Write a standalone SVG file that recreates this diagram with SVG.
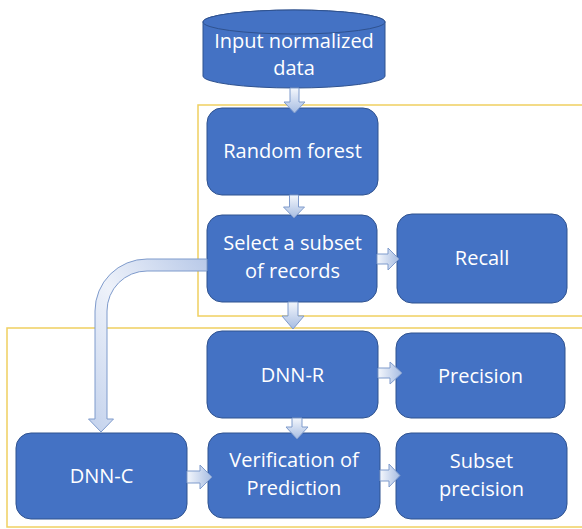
<svg xmlns="http://www.w3.org/2000/svg" width="582" height="529" viewBox="0 0 582 529">
<defs>
<linearGradient id="gDown" x1="0" y1="0" x2="0" y2="1">
<stop offset="0" stop-color="#f4f7fc"/>
<stop offset="1" stop-color="#a6bce2"/>
</linearGradient>
<linearGradient id="gRight" x1="0" y1="0" x2="1" y2="0">
<stop offset="0" stop-color="#f4f7fc"/>
<stop offset="1" stop-color="#a6bce2"/>
</linearGradient>
<linearGradient id="gCurve" x1="1" y1="0" x2="0" y2="1">
<stop offset="0" stop-color="#b8c9e8"/>
<stop offset="0.5" stop-color="#eef2fa"/>
<stop offset="1" stop-color="#c2d1ec"/>
</linearGradient>
</defs>
<style>
.box{fill:#4472c4;stroke:#2f528f;stroke-width:1}
.frame{fill:none;stroke:#f0d060;stroke-width:1.5}
.lbl{font-family:"Open Sans","Liberation Sans",sans-serif;font-size:20px;fill:#ffffff;text-anchor:middle}
.ad{fill:url(#gDown);stroke:#7f9bcc;stroke-width:1}
.ar{fill:url(#gRight);stroke:#7f9bcc;stroke-width:1}
.ac{fill:url(#gCurve);stroke:#7f9bcc;stroke-width:1}
</style>
<rect width="582" height="529" fill="#ffffff"/>
<g id="frames">
<rect class="frame" x="198" y="105" width="420" height="211"/>
<rect class="frame" x="7" y="328" width="620" height="199"/>
</g>
<g id="input">
<path class="box" d="M203,22 A91,12 0 0 1 385,22 L385,76 A91,12 0 0 1 203,76 Z"/>
<ellipse class="box" cx="294" cy="22" rx="91" ry="12"/>
<text class="lbl" x="294" y="48">Input normalized</text>
<text class="lbl" x="294" y="75">data</text>
</g>
<g id="random-forest">
<rect class="box" x="207" y="108" width="171" height="87" rx="15"/>
<text class="lbl" x="292.5" y="158">Random forest</text>
</g>
<g id="select">
<rect class="box" x="207" y="215" width="170" height="87" rx="15"/>
<text class="lbl" x="292.5" y="250">Select a subset</text>
<text class="lbl" x="292.5" y="278">of records</text>
</g>
<g id="recall">
<rect class="box" x="397" y="214" width="170" height="89" rx="15"/>
<text class="lbl" x="482" y="265">Recall</text>
</g>
<g id="dnn-r">
<rect class="box" x="207" y="331" width="171" height="87" rx="15"/>
<text class="lbl" x="292.5" y="382">DNN-R</text>
</g>
<g id="precision">
<rect class="box" x="396" y="333" width="169" height="85" rx="15"/>
<text class="lbl" x="480.5" y="383">Precision</text>
</g>
<g id="dnn-c">
<rect class="box" x="16" y="433" width="171" height="86" rx="15"/>
<text class="lbl" x="101.5" y="483">DNN-C</text>
</g>
<g id="verification">
<rect class="box" x="208" y="433" width="172" height="85" rx="15"/>
<text class="lbl" x="294" y="467">Verification of</text>
<text class="lbl" x="294" y="495">Prediction</text>
</g>
<g id="subset-precision">
<rect class="box" x="396" y="433" width="171" height="86" rx="15"/>
<text class="lbl" x="481.5" y="468">Subset</text>
<text class="lbl" x="481.5" y="496">precision</text>
</g>
<g id="connectors">
<path class="ad" d="M290,88 L299,88 L299,102 L305,102 L294.5,113 L284,102 L290,102 Z"/>
<path class="ad" d="M289.5,195 L298.5,195 L298.5,207 L304.5,207 L294,218 L283.5,207 L289.5,207 Z"/>
<path class="ad" d="M288,302 L298,302 L298,316 L304,316 L293,329 L282,316 L288,316 Z"/>
<path class="ad" d="M292,418 L302,418 L302,427 L308,427 L297,439 L286,427 L292,427 Z"/>
<path class="ar" d="M377,254 L388,254 L388,248 L399,259 L388,270 L388,264 L377,264 Z"/>
<path class="ar" d="M378,368 L390,368 L390,362 L402,373 L390,384 L390,378 L378,378 Z"/>
<path class="ar" d="M380,470 L389,470 L389,464 L400,475.5 L389,487 L389,481 L380,481 Z"/>
<path class="ar" d="M187,471 L200,471 L200,465 L212,477 L200,489 L200,483 L187,483 Z"/>
<path class="ac" d="M207,259 L147,259 A52,52 0 0 0 95,311 L95,419 L88.5,419 L101,432 L113.5,419 L107,419 L107,311 A40,40 0 0 1 147,271 L207,271 Z"/>
</g>
</svg>
